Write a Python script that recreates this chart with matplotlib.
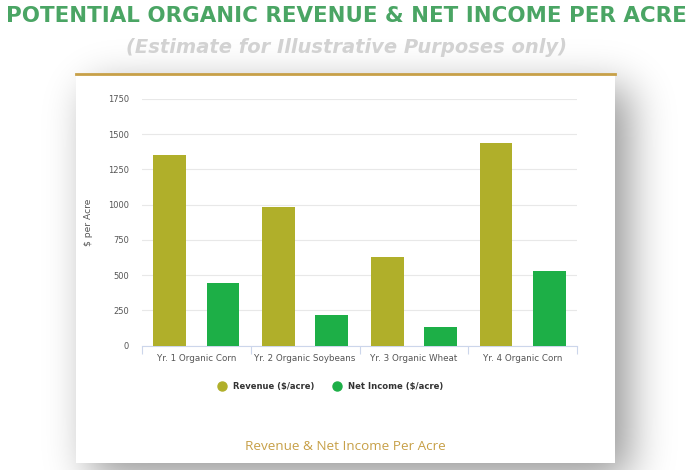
import math
import numpy as np
import matplotlib
matplotlib.use("Agg")
import matplotlib.pyplot as plt
from matplotlib.patches import Rectangle
from matplotlib.lines import Line2D

# data
categories = ["Yr. 1 Organic Corn", "Yr. 2 Organic Soybeans", "Yr. 3 Organic Wheat", "Yr. 4 Organic Corn"]
revenue = [1350, 980, 625, 1435]
net_income = [445, 220, 130, 530]
series_names = ["Revenue ($/acre)", "Net Income ($/acre)"]
y_ticks = [0, 250, 500, 750, 1000, 1250, 1500, 1750]

REV_COLOR = "#b0af2a"
NET_COLOR = "#1daf47"
GOLD = "#c7a048"

W, H = 695, 470
fig = plt.figure(figsize=(W / 100, H / 100), dpi=100)
fig.patch.set_facecolor("white")
renderer = fig.canvas.get_renderer()


def fx(px):
    return px / W


def fy(py):
    return 1 - py / H


def fit_width(t, target_px):
    # scale font so the text is target_px wide
    w = t.get_window_extent(renderer=renderer).width
    t.set_fontsize(t.get_fontsize() * target_px / w)


# soft box shadow (gaussian blurred rect, offset down/right)
card_l, card_r, card_t, card_b = 76, 615, 74, 463
dx, dy, sigma, strength = 14, 14, 21, 0.42
phi = np.vectorize(lambda z: 0.5 * (1 + math.erf(z / math.sqrt(2))))
xs = np.arange(W) + 0.5
ys = np.arange(H) + 0.5
px_prof = phi((xs - card_l - dx) / sigma) - phi((xs - card_r - dx) / sigma)
py_prof = phi((ys - card_t - dy) / sigma) - phi((ys - card_b - dy) / sigma)
alpha = strength * np.outer(py_prof, px_prof)
shadow = np.zeros((H, W, 4))
shadow[..., 3] = alpha
fig.figimage(shadow, 0, 0, origin="upper", zorder=0)

# card
card = Rectangle((fx(card_l), fy(card_b)), fx(card_r - card_l), (card_b - card_t) / H,
                 transform=fig.transFigure, facecolor="white", edgecolor="none", zorder=1)
fig.add_artist(card)
fig.add_artist(Line2D([fx(card_l), fx(card_r)], [fy(card_t), fy(card_t)],
                      transform=fig.transFigure, color=GOLD, lw=2, zorder=2))

# titles
t1 = fig.text(fx(346), fy(15.5), "POTENTIAL ORGANIC REVENUE & NET INCOME PER ACRE",
              ha="center", va="center", fontsize=16, fontweight="bold",
              color="#4aa564", family="DejaVu Sans")
fit_width(t1, 678)
t2 = fig.text(fx(346.5), fy(47.5), "(Estimate for Illustrative Purposes only)",
              ha="center", va="center", fontsize=15, fontweight="bold", style="italic",
              color="#d2d2d2", family="DejaVu Sans")
fit_width(t2, 443)

# plot area
left, right, top, bottom = 142, 577, 99, 345.5
ax = fig.add_axes([fx(left), fy(bottom), fx(right - left), (bottom - top) / H], zorder=3)
ax.set_facecolor("none")

x = np.arange(len(categories))
bw = 0.30
ax.bar(x - 0.245, revenue, bw, color=REV_COLOR, zorder=3)
ax.bar(x + 0.245, net_income, bw, color=NET_COLOR, zorder=3)

ax.set_xlim(-0.5, len(categories) - 0.5)
ax.set_ylim(0, 1750)
ax.set_yticks(y_ticks)
ax.set_yticklabels([str(v) for v in y_ticks], fontsize=6.0, color="#555555")
ax.yaxis.grid(True, color="#e8e8e8", lw=0.8, zorder=0)
ax.tick_params(axis="y", length=0, pad=9.4)

ax.set_xticks(x)
ax.set_xticklabels(categories, fontsize=6.3, color="#555555")
ax.set_xticks(np.arange(-0.5, len(categories)), minor=True)
ax.tick_params(axis="x", which="major", length=0, pad=6)
ax.tick_params(axis="x", which="minor", length=6, color="#ccd6eb", width=0.8)

for s in ["top", "right", "left"]:
    ax.spines[s].set_visible(False)
ax.spines["bottom"].set_color("#ccd6eb")
ax.spines["bottom"].set_linewidth(0.8)
ax.set_ylabel("$ per Acre", fontsize=6.6, color="#555555")
ax.yaxis.set_label_coords((93 - left) / (right - left), 0.5)

# legend
leg_y = fy(386)
for cx, tx, tw, name, col in [(221.7, 232.7, 81, series_names[0], REV_COLOR),
                              (336.7, 348, 95, series_names[1], NET_COLOR)]:
    fig.add_artist(Line2D([fx(cx)], [leg_y], marker="o", markersize=6.5, lw=0,
                          color=col, transform=fig.transFigure, zorder=4))
    lt = fig.text(fx(tx), leg_y, name, ha="left", va="center", fontsize=6.8,
                  fontweight="bold", color="#333333", zorder=4)
    fit_width(lt, tw)

ft = fig.text(fx(345), fy(446.5), "Revenue & Net Income Per Acre", ha="center", va="center",
              fontsize=9.5, color=GOLD, family="Open Sans", zorder=4)
fit_width(ft, 202)

fig.savefig("out.png", dpi=100)
